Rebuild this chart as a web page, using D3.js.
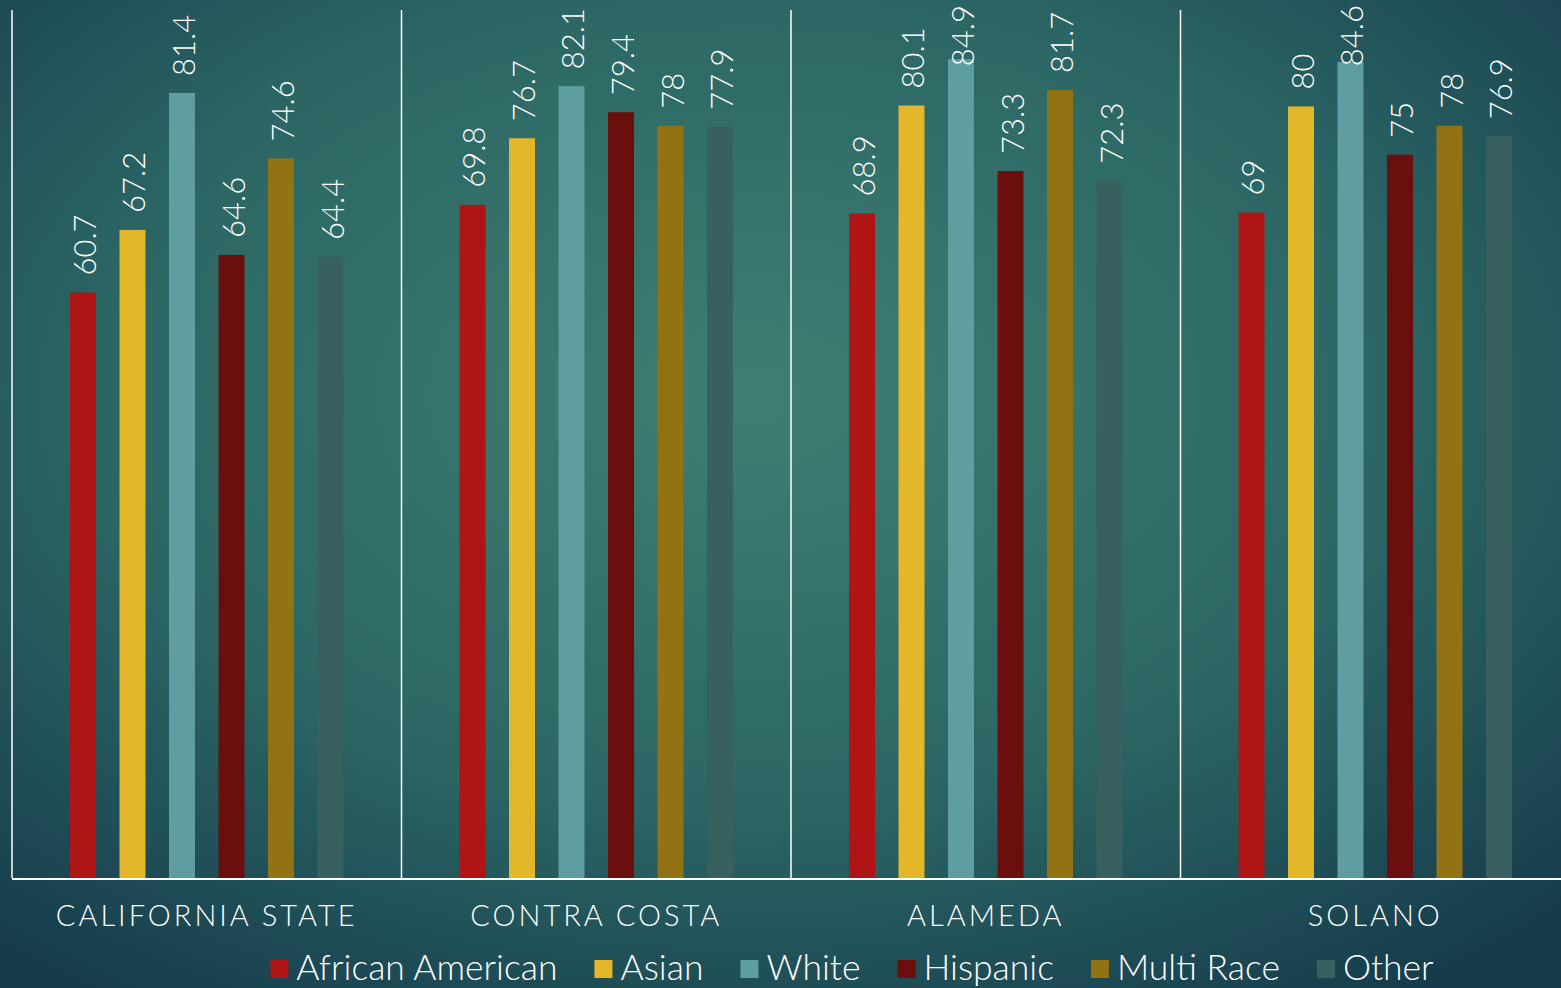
<!DOCTYPE html>
<html>
<head>
<meta charset="utf-8">
<script src="https://cdn.jsdelivr.net/npm/d3@7"></script>
<style>
  body { margin: 0; overflow: hidden; }
  text { font-family: "Lato", "Liberation Sans", sans-serif; font-weight: 300; fill: #ffffff; }
</style>
</head>
<body>
<div id="chart"></div>
<script>
// data
var categories = ["CALIFORNIA STATE", "CONTRA COSTA", "ALAMEDA", "SOLANO"];
var seriesNames = ["African American", "Asian", "White", "Hispanic", "Multi Race", "Other"];
var africanAmerican = [60.7, 69.8, 68.9, 69];
var asian = [67.2, 76.7, 80.1, 80];
var white = [81.4, 82.1, 84.9, 84.6];
var hispanic = [64.6, 79.4, 73.3, 75];
var multiRace = [74.6, 78, 81.7, 78];
var other = [64.4, 77.9, 72.3, 76.9];
var seriesValues = [africanAmerican, asian, white, hispanic, multiRace, other];
var colors = ["#b01515", "#e4b62a", "#5f9ea0", "#6b0e0e", "#927314", "#37605e"];

var svgWidth = 1561;
var svgHeight = 988;

var margin = { top: 10, left: 12, bottom: 110 };
var baseY = svgHeight - margin.bottom;

var svg = d3.select("#chart")
  .append("svg")
  .attr("width", svgWidth)
  .attr("height", svgHeight);

// background gradient
var grad = svg.append("defs").append("radialGradient")
  .attr("id", "bg")
  .attr("cx", "48%").attr("cy", "40%").attr("r", "75%");
grad.append("stop").attr("offset", "0%").attr("stop-color", "#3f7f72");
grad.append("stop").attr("offset", "55%").attr("stop-color", "#2b6664");
grad.append("stop").attr("offset", "100%").attr("stop-color", "#153a4b");

svg.append("rect")
  .attr("width", svgWidth)
  .attr("height", svgHeight)
  .attr("fill", "url(#bg)");

// scales
var groupWidth = 389.5;
var x0 = d3.scaleBand()
  .domain(categories)
  .range([margin.left, margin.left + groupWidth * categories.length])
  .padding(0);

var x1 = d3.scaleBand()
  .domain(seriesNames)
  .range([58, groupWidth - 58])
  .paddingInner(0.475)
  .paddingOuter(0);

var y = d3.scaleLinear()
  .domain([0, 90])
  .range([baseY, margin.top]);

// group separators
svg.selectAll("line.sep")
  .data(categories)
  .enter()
  .append("line")
  .attr("class", "sep")
  .attr("x1", d => x0(d))
  .attr("x2", d => x0(d))
  .attr("y1", margin.top)
  .attr("y2", baseY)
  .attr("stroke", "#ffffff")
  .attr("stroke-width", 1.5);

// bars
var groups = svg.selectAll("g.group")
  .data(categories)
  .enter()
  .append("g")
  .attr("class", "group")
  .attr("transform", d => `translate(${x0(d)},0)`);

groups.each(function(cat, ci) {
  var g = d3.select(this);
  seriesNames.forEach(function(s, si) {
    var v = seriesValues[si][ci];
    g.append("rect")
      .attr("x", x1(s))
      .attr("y", y(v))
      .attr("width", x1.bandwidth())
      .attr("height", baseY - y(v))
      .attr("fill", colors[si]);

    // value label, pushed down when it would leave the top
    var label = g.append("text")
      .attr("font-size", 31)
      .attr("dominant-baseline", "central")
      .text(v);
    var len = label.node().getComputedTextLength();
    var startY = Math.max(y(v) - 17, 5 + len);
    label.attr("transform", `translate(${x1(s) + x1.bandwidth() / 2 + 1},${startY}) rotate(-90)`);
  });
});

// x axis line
svg.append("line")
  .attr("x1", margin.left)
  .attr("x2", svgWidth)
  .attr("y1", baseY + 1)
  .attr("y2", baseY + 1)
  .attr("stroke", "#ffffff")
  .attr("stroke-width", 2);

// category labels
svg.selectAll("text.cat")
  .data(categories)
  .enter()
  .append("text")
  .attr("class", "cat")
  .attr("x", d => x0(d) + groupWidth / 2)
  .attr("y", 926)
  .attr("text-anchor", "middle")
  .attr("font-size", 29)
  .attr("letter-spacing", 3)
  .text(d => d);

// legend
var legend = svg.append("g");
var lx = 0;
seriesNames.forEach(function(s, i) {
  var item = legend.append("g").attr("transform", `translate(${lx},0)`);
  item.append("rect")
    .attr("x", 0)
    .attr("y", -20)
    .attr("width", 18)
    .attr("height", 18)
    .attr("fill", colors[i]);
  var t = item.append("text")
    .attr("x", 26)
    .attr("y", 0)
    .attr("font-size", 35.5)
    .text(s);
  lx += 26 + t.node().getComputedTextLength() + 37;
});
var legendWidth = lx - 37;
legend.attr("transform", `translate(${852 - legendWidth / 2},980)`);
</script>
</body>
</html>
